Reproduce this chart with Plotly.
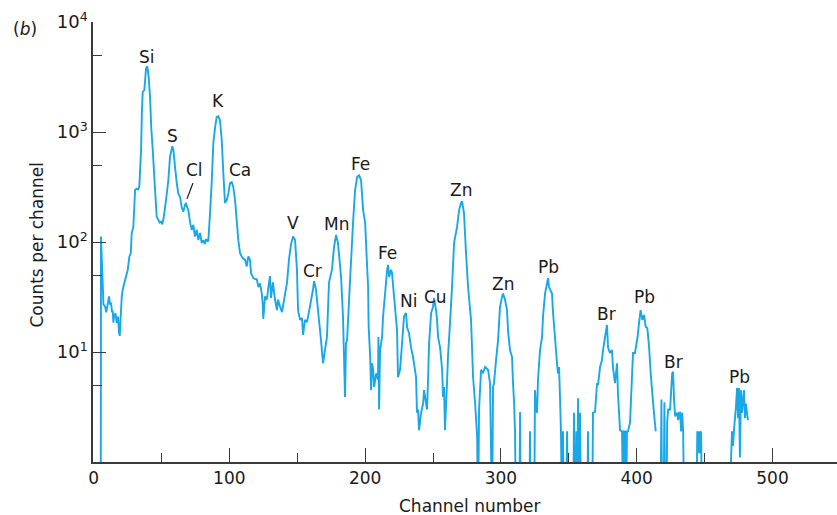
import plotly.graph_objects as go

# ---- data ----
channel = [
    5.3, 5.5, 6.0, 6.8, 7.3, 8.5, 9.3, 10.2, 11.4, 12.2, 12.9, 13.6, 14.1, 14.6, 15.1, 16.1, 17.1, 18.0, 18.8, 19.3,
    20.0, 20.8, 21.5, 23.2, 25.2, 26.4, 27.4, 28.1, 29.3, 30.6, 31.8, 32.8, 33.7, 35.0, 35.6, 36.2, 37.4, 38.7, 39.6, 40.6,
    41.6, 42.5, 43.6, 45.3, 46.5, 47.7, 48.7, 49.7, 50.6, 51.4, 53.4, 55.1, 56.3, 58.0, 58.8, 60.0, 61.3, 62.4, 63.7, 64.9,
    66.1, 67.4, 68.1, 69.0, 69.8, 71.1, 72.3, 73.5, 74.7, 76.0, 77.2, 78.4, 79.7, 80.9, 82.0, 82.8, 84.5, 85.8, 87.0, 88.2,
    89.5, 90.7, 91.9, 93.1, 94.4, 95.6, 96.8, 98.1, 99.3, 100.5, 101.8, 102.9, 104.2, 105.4, 106.6, 107.9, 109.9, 111.6, 112.8, 114.0,
    115.2, 116.0, 117.7, 119.0, 120.2, 121.4, 122.6, 123.9, 124.6, 125.0, 126.3, 127.7, 128.5, 129.9, 130.7, 132.1, 133.6, 135.1, 135.8, 137.3,
    138.8, 139.5, 142.5, 143.9, 145.4, 146.2, 146.9, 148.4, 149.8, 150.6, 152.1, 153.5, 154.3, 155.7, 157.2, 159.4, 161.6, 162.4, 163.8, 165.3,
    167.5, 169.0, 171.9, 173.4, 175.6, 177.1, 178.6, 180.0, 182.3, 183.7, 185.2, 185.9, 186.7, 188.9, 191.1, 192.6, 194.1, 195.5, 197.0, 198.5,
    200.0, 201.2, 202.2, 202.6, 203.7, 204.4, 205.1, 205.9, 206.6, 208.1, 209.5, 209.8, 210.3, 211.0, 212.5, 213.2, 214.7, 216.2, 216.9, 217.7,
    219.1, 219.8, 221.3, 223.5, 224.2, 225.7, 227.2, 228.6, 230.1, 230.9, 232.3, 233.8, 235.3, 237.5, 238.2, 239.0, 239.7, 241.2, 242.7, 243.4,
    244.9, 245.6, 246.4, 247.1, 248.6, 250.0, 250.8, 252.2, 253.0, 253.7, 255.2, 256.7, 257.4, 258.1, 258.8, 260.3, 261.0, 262.5, 264.0, 265.5,
    267.7, 269.2, 270.6, 271.4, 272.8, 274.3, 275.8, 278.0, 279.5, 281.0, 282.5, 283.2, 283.9, 285.4, 286.8, 288.3, 290.5, 292.0, 293.5, 294.2,
    294.9, 296.4, 297.9, 299.3, 300.8, 301.5, 303.0, 304.5, 305.2, 306.7, 308.2, 308.9, 309.6, 310.4, 311.0, 313.6, 314.1, 314.6, 321.0, 321.4,
    322.0, 324.5, 325.1, 325.8, 326.6, 327.3, 328.8, 330.3, 331.0, 332.5, 333.9, 334.7, 335.4, 336.9, 337.6, 338.4, 339.8, 341.3, 342.0, 342.8,
    343.5, 344.2, 345.0, 345.7, 346.4, 348.0, 348.7, 349.4, 353.3, 353.8, 354.4, 355.0, 355.5, 356.1, 356.8, 357.4, 358.3, 359.0, 363.6, 364.1,
    364.8, 367.2, 367.8, 369.3, 370.8, 371.5, 373.0, 374.4, 375.2, 376.7, 378.1, 378.9, 380.3, 381.8, 382.5, 384.0, 385.5, 386.2, 387.7, 389.2,
    390.0, 390.5, 391.4, 392.2, 392.8, 393.6, 395.1, 396.5, 397.3, 398.7, 400.7, 401.7, 402.9, 404.1, 405.4, 406.6, 407.8, 409.1, 410.3, 411.5,
    412.7, 414.0, 415.0, 417.5, 418.2, 418.7, 419.8, 420.4, 421.0, 422.0, 422.4, 423.2, 424.6, 426.1, 426.8, 427.5, 428.3, 429.8, 430.5, 431.2,
    432.0, 432.7, 433.5, 434.2, 435.0, 444.0, 444.6, 445.3, 446.0, 446.7, 447.4, 448.1, 469.0, 469.5, 470.2, 470.9, 471.7, 473.1, 473.9, 474.6,
    475.3, 476.0, 476.8, 477.5, 479.0, 479.7, 480.4, 481.9,
]
counts = [
    0, 112, 74, 40, 27, 26, 23, 26, 32, 27, 28, 23, 24, 18.5, 21, 22.6, 18.3, 21, 15, 14,
    21, 32, 37, 45, 56, 74, 79, 120, 137, 297, 305, 300, 317, 686, 1500, 2300, 2410, 3800, 3950, 3170,
    2080, 1100, 686, 297, 170, 159, 150, 153, 145, 159, 241, 366, 595, 742, 686, 482, 343, 275, 258, 208,
    189, 218, 226, 205, 195, 150, 129, 143, 112, 129, 104, 121, 98, 104, 96, 106, 101, 184, 343, 786,
    1100, 1370, 1390, 1280, 846, 420, 226, 241, 275, 343, 350, 317, 241, 159, 104, 79, 71, 69, 60, 74,
    69, 52, 47, 46, 46, 39, 42, 34, 27, 20, 32, 30, 37, 49, 31, 43, 30, 24, 30, 26,
    23, 26, 43, 69, 95, 104, 112, 104, 56, 24, 19.6, 20.4, 14.3, 19.6, 18.7, 26, 37, 44, 37, 24,
    12.8, 7.9, 13.7, 43, 56, 90, 116, 98, 48, 21, 3.9, 12, 12.8, 45, 150, 297, 390, 404, 366, 195,
    150, 70, 39, 17, 9.1, 4.5, 7.9, 6.9, 4.8, 6.4, 5.6, 13.7, 3.0, 10.4, 13.7, 21, 34, 56, 62, 48,
    56, 52, 32, 15.8, 5.9, 6.9, 12, 21, 22.6, 16.8, 14.9, 11, 9, 5.9, 2.8, 3.0, 1.95, 2.8, 3.4, 4.5,
    3.4, 3.0, 5.9, 12, 22.6, 25.6, 31, 24, 19.5, 13.7, 11, 6.9, 3.9, 4.8, 1.95, 5.2, 9, 18.3, 39, 98,
    137, 195, 226, 235, 183, 79, 39, 19.5, 5.9, 3.4, 1.7, 0, 3.0, 6.9, 6.4, 7.3, 6.9, 5.2, 0, 4.8,
    5.2, 8.4, 12.8, 25.6, 31.7, 34, 30, 24, 15.8, 10.4, 9, 5.2, 3.7, 1.9, 0, 0, 2.85, 0, 0, 1.9,
    0, 0, 4.5, 3.2, 2.8, 5.6, 10.4, 13.7, 21, 34, 42, 47, 39, 35.6, 34, 22.6, 13.7, 7.9, 6.4, 7.3,
    3.9, 1.95, 0, 1.9, 0, 0, 1.9, 0, 0, 2.8, 0, 0, 1.9, 0, 3.8, 0, 2.8, 0, 0, 1.9,
    0, 0, 2.8, 2.85, 5.2, 5.0, 7.3, 8.4, 10.4, 13.7, 17.6, 11, 9.8, 10.4, 7.3, 5.2, 7.9, 4.2, 1.95, 1.9,
    0, 1.9, 1.9, 0, 1.9, 1.9, 2.3, 5.9, 9.8, 9.8, 13.9, 18.3, 24, 19.6, 21.7, 17, 16.5, 11.2, 6.4, 4.2,
    2.8, 1.9, None, 0, 3.7, 0, 0, 3.5, 0, 0, 2.3, 3.0, 3.0, 6.4, 6.6, 3.7, 2.6, 2.8, 2.4, 2.8,
    2.8, 1.9, 2.8, 1.9, 0, 0, 1.9, 1.2, 1.9, 1.2, 1.9, 0, 0, 1.1, 1.9, 1.4, 2.0, 3.2, 4.7, 2.5,
    4.7, 1.1, 4.5, 2.8, 4.5, 2.5, 3.4, 2.4,
]

# peak labels: text, channel, log10(count) position
peak_labels = ["Si", "S", "Cl", "K", "Ca", "V", "Cr", "Mn", "Fe", "Fe", "Ni", "Cu", "Zn", "Zn", "Pb", "Br", "Pb", "Br", "Pb"]
label_ch = [39.4, 58.5, 74.7, 91.7, 107.9, 146.9, 161.6, 178.6, 196.3, 216.2, 231.6, 251.5, 270.6, 301.5, 334.7, 378.1, 405.4, 426.8, 476.0]
label_logy = [3.680, 2.963, 2.654, 3.280, 2.654, 2.173, 1.738, 2.164, 2.709, 1.901, 1.466, 1.502, 2.473, 1.620, 1.774, 1.348, 1.502, 0.912, 0.776]

x_ticks = [0, 100, 200, 300, 400, 500]
y_ticks = [10, 100, 1000, 10000]
y_ticktext = ["10<sup>1</sup>", "10<sup>2</sup>", "10<sup>3</sup>", "10<sup>4</sup>"]
y_minor = [5, 50, 500, 5000]

# zero counts cannot be drawn on a log axis; they are sent below the axis floor
plot_counts = [None if c is None else (c if c > 0 else 0.3) for c in counts]

FONT = "DejaVu Sans"
TXT = "#1a1a1a"
AX = "#3a3a3a"

fig = go.Figure()
fig.add_trace(go.Scatter(
    x=channel, y=plot_counts, mode="lines",
    line=dict(color="rgb(24,168,232)", width=1.9, simplify=False),
    connectgaps=False, hoverinfo="skip", showlegend=False,
))

annotations = []
for t, cx, ly in zip(peak_labels, label_ch, label_logy):
    annotations.append(dict(x=cx, y=ly, xref="x", yref="y", text=t, showarrow=False,
                            font=dict(family=FONT, size=17, color=TXT), xanchor="center", yanchor="middle"))

annotations += [
    dict(x=-0.0914, y=0.985, xref="paper", yref="paper", text="(<i>b</i>)", showarrow=False,
         font=dict(family=FONT, size=17, color=TXT), xanchor="center", yanchor="middle"),
    dict(x=0.5067, y=-0.099, xref="paper", yref="paper", text="Channel number", showarrow=False,
         font=dict(family=FONT, size=17, color=TXT), xanchor="center", yanchor="middle"),
    dict(x=-0.0753, y=0.494, xref="paper", yref="paper", text="Counts per channel", showarrow=False,
         textangle=-90, font=dict(family=FONT, size=17, color=TXT), xanchor="center", yanchor="middle"),
]

fig.update_layout(
    width=837, height=515,
    margin=dict(l=93, r=0, t=22, b=53, autoexpand=False),
    paper_bgcolor="white", plot_bgcolor="white",
    font=dict(family=FONT, size=17, color=TXT),
    annotations=annotations,
    shapes=[dict(type="line", xref="paper", yref="paper", x0=0.1344, y0=0.634, x1=0.1263, y1=0.598,
                 line=dict(color=TXT, width=1.2))],
    xaxis=dict(
        range=[-0.4, 547.5], showgrid=False, zeroline=False, automargin=False,
        showline=True, linecolor=AX, linewidth=1.5,
        tickmode="array", tickvals=x_ticks, ticks="inside", ticklen=14, tickwidth=1.3, tickcolor=AX,
        tickfont=dict(family=FONT, size=17, color=TXT),
        minor=dict(tickmode="linear", tick0=50, dtick=100, ticks="inside", ticklen=9, tickwidth=1.3, tickcolor=AX),
    ),
    yaxis=dict(
        type="log", range=[0, 4], showgrid=False, zeroline=False, automargin=False,
        showline=True, linecolor=AX, linewidth=1.5,
        tickmode="array", tickvals=y_ticks, ticktext=y_ticktext,
        ticks="inside", ticklen=13, tickwidth=1.3, tickcolor=AX,
        tickfont=dict(family=FONT, size=18, color=TXT),
        minor=dict(tickmode="array", tickvals=y_minor, ticks="inside", ticklen=9, tickwidth=1.3, tickcolor=AX),
    ),
)

fig.write_html(
    "out.html",
    config={"displayModeBar": False},
    post_script="document.body.style.margin='0';document.body.style.overflow='hidden';",
)
